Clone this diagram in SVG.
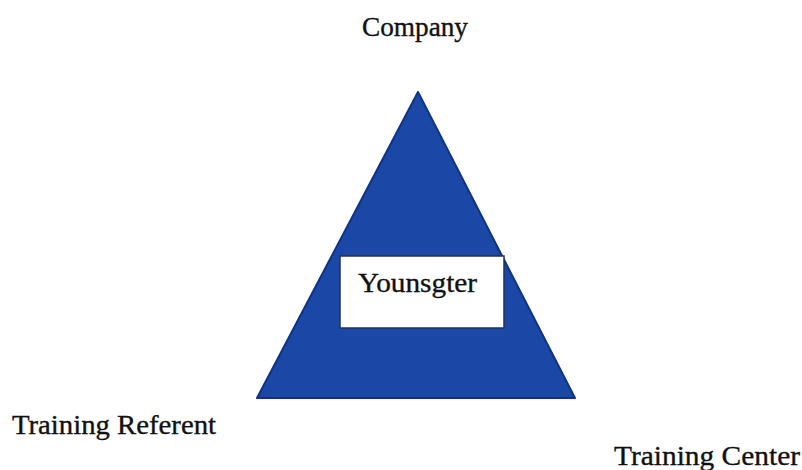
<svg xmlns="http://www.w3.org/2000/svg" width="802" height="470" viewBox="0 0 802 470">
  <style>
    .label { font-family: "Liberation Serif", "Times New Roman", serif; font-size: 27px; fill: #111111; stroke: #111111; stroke-width: 0.35; }
    .tri { fill: #1b48a6; stroke: #0f3384; stroke-width: 2; stroke-linejoin: round; }
    .box { fill: #ffffff; stroke: #20305a; stroke-width: 1.5; }
  </style>
  <rect width="802" height="470" fill="#ffffff"/>
  <g id="triangle">
    <polygon class="tri" points="418,92 257,398 575,398"/>
  </g>
  <g id="youngster">
    <rect class="box" x="340" y="256" width="164" height="72"/>
    <text class="label" x="358" y="292" textLength="119" lengthAdjust="spacingAndGlyphs">Younsgter</text>
  </g>
  <g id="company">
    <text class="label" x="362" y="36" textLength="106" lengthAdjust="spacingAndGlyphs">Company</text>
  </g>
  <g id="training-referent">
    <text class="label" x="12" y="434" textLength="204" lengthAdjust="spacingAndGlyphs">Training Referent</text>
  </g>
  <g id="training-center">
    <text class="label" x="614" y="465" textLength="186" lengthAdjust="spacingAndGlyphs">Training Center</text>
  </g>
  <g id="connectors"/>
</svg>
